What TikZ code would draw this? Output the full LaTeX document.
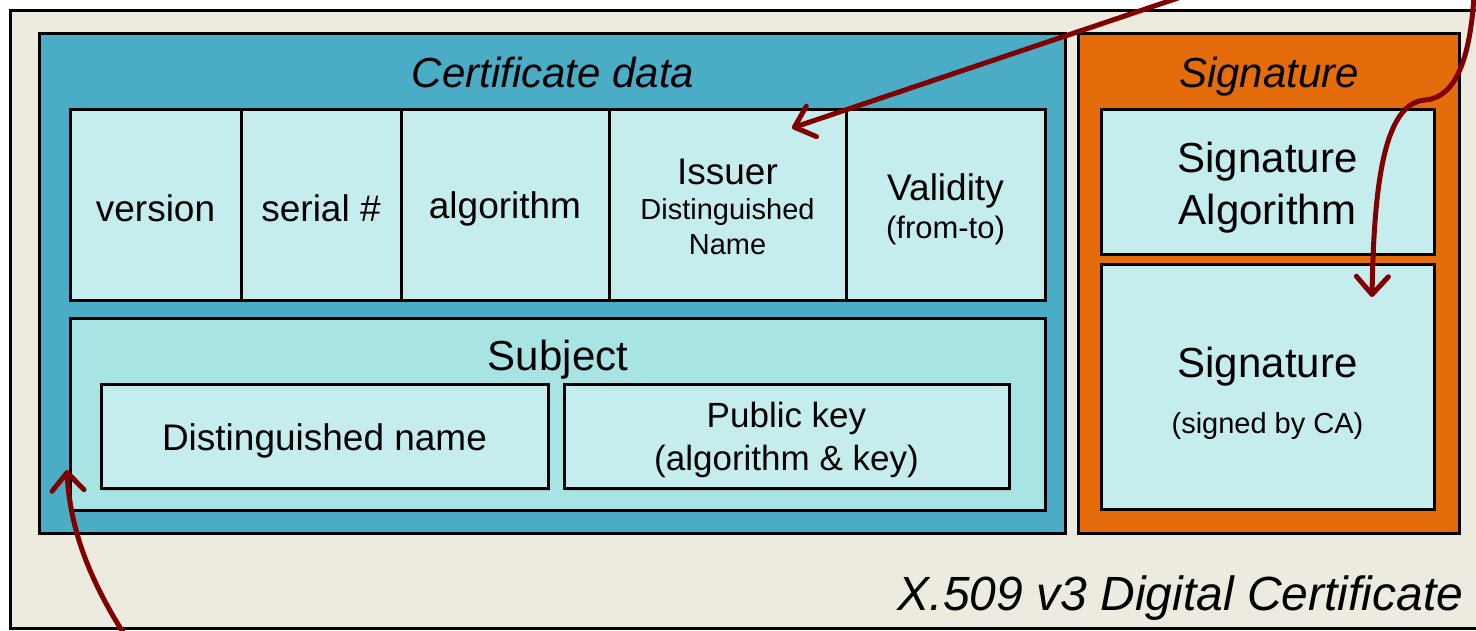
\documentclass[tikz,border=0pt]{standalone}
\usepackage{fontspec}
\setmainfont{Liberation Sans}
\usetikzlibrary{arrows.meta,shadows}

\definecolor{certbeige}{RGB}{237,235,224}
\definecolor{certblue}{RGB}{75,172,198}
\definecolor{sigorange}{RGB}{228,108,10}
\definecolor{celllight}{RGB}{198,237,238}
\definecolor{subjlight}{RGB}{169,228,229}
\definecolor{linkred}{RGB}{128,0,0}

\newcommand{\fsz}[2]{\fontsize{#1pt}{#2pt}\selectfont}
% invisible strut to push a field's text down
\newcommand{\pad}[1]{\vrule width 0pt height #1pt\relax}

\tikzset{
  field/.style={draw, line width=3pt, fill=celllight, inner sep=0pt, align=center, font=\fsz{37}{44}},
  panel/.style={draw, line width=3pt, inner sep=0pt},
  shade box/.style={drop shadow={shadow xshift=2pt, shadow yshift=-3pt, opacity=0.3}},
  title/.style={anchor=base, font=\fsz{42}{50}\itshape},
  link/.style={linkred, line width=5pt, -{Straight Barb[length=18pt,width=32pt,round]}},
}

\begin{document}
\begin{tikzpicture}[x=1pt,y=-1pt]
  \useasboundingbox (0,0) rectangle (1476,630);
  \clip (0,0) rectangle (1476,630);
  \fill[white] (0,0) rectangle (1476,630);
  \draw[line width=3pt, fill=certbeige] (10,10) rectangle (1520,628);

  % the two parts
  \node[panel, fill=certblue, minimum width=1026pt, minimum height=500pt] (data) at (552,283) {};
  \node[panel, fill=sigorange, minimum width=381pt, minimum height=500pt] (sig) at (1268.5,283) {};
  \node[title] (datatitle) at (553,87) {Certificate data};
  \node[title] (sigtitle) at (1269,87) {Signature};

  % row of fields
  \foreach \name/\x/\w/\txt in {version/155.5/171/version, serial/321/160/serial \#, algo/505/208/algorithm}
    \node[field, minimum width=\w pt, minimum height=191pt] (\name) at (\x,204.5) {\pad{35}\txt};
  \node[field, font=\fsz{29}{35}, minimum width=237pt, minimum height=191pt] (issuer) at (727.5,204.5)
    {{\fsz{37}{35}\pad{31}Issuer}\\Distinguished\\Name};
  \node[field, font=\fsz{37}{38}, minimum width=199pt, minimum height=191pt] (validity) at (945.5,204.5)
    {\pad{37}Validity\\{\fsz{31}{38}(from-to)}};

  % subject
  \node[panel, fill=subjlight, minimum width=975pt, minimum height=192pt] (subject) at (557.5,414) {};
  \node[anchor=base, font=\fsz{42}{50}] (subjtitle) at (558,370) {Subject};
  \node[field, shade box, minimum width=447pt, minimum height=104pt] (dname) at (324.5,436)
    {\pad{37}Distinguished name};
  \node[field, shade box, font=\fsz{35}{43}, minimum width=445pt, minimum height=104pt] (pubkey) at (786.5,436)
    {\pad{34}Public key\\(algorithm \& key)};

  % signature
  \node[field, font=\fsz{42}{52}, minimum width=333pt, minimum height=145pt] (sigalg) at (1267.5,181.5)
    {\pad{43}Signature\\Algorithm};
  \node[field, font=\fsz{42}{56}, minimum width=333pt, minimum height=245pt] (sigval) at (1267.5,386.5)
    {\pad{45}Signature\\{\fsz{29}{56}(signed by CA)}};

  \node[anchor=base east, font=\fsz{48}{58}\itshape] (certname) at (1467,610) {X.509 v3 Digital Certificate};

  % links
  \coordinate (issuertip) at (792,128);
  \coordinate (sigtip) at (1372,297);
  \coordinate (subjtip) at (67,470);
  \coordinate (linkA) at (1184,-4);
  \coordinate (linkB) at (1474,-4);
  \coordinate (linkC) at (124,634);
  \draw[link] (linkA) -- (issuertip);
  \draw[link] (linkB) .. controls (1470,60) and (1455,98) .. (1425,100)
    .. controls (1385,103) and (1374,180) .. (sigtip);
  \draw[link] (linkC) .. controls (90,580) and (70,530) .. (subjtip);
\end{tikzpicture}
\end{document}
